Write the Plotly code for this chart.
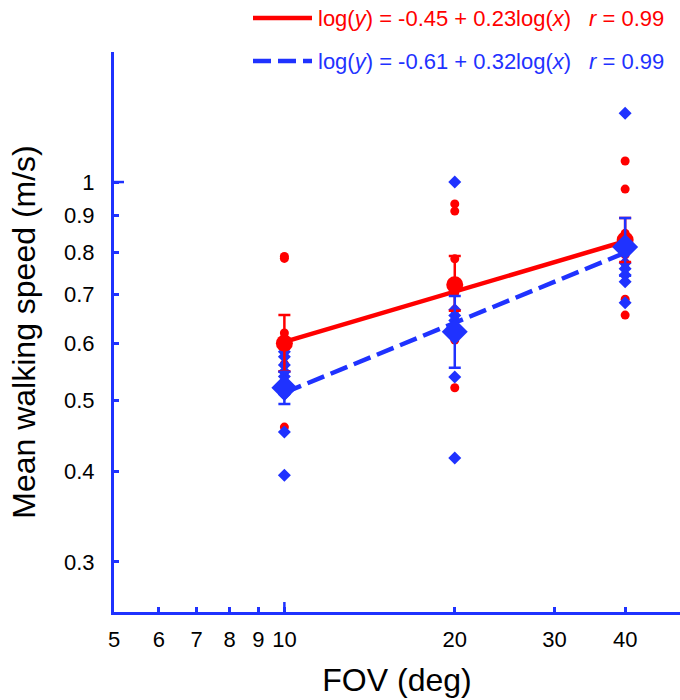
import numpy as np
import plotly.graph_objects as go

RED = "#ff0000"
BLUE = "#1f32ff"
FONT = "Liberation Sans, Arial, sans-serif"

fov = [10, 20, 40]

# individual participant speeds (m/s)
red_pts_10 = [0.79, 0.785, 0.62, 0.61, 0.60, 0.562, 0.46]
red_pts_20 = [0.933, 0.912, 0.784, 0.73, 0.715, 0.704, 0.667, 0.606, 0.521]
red_pts_40 = [1.069, 0.978, 0.85, 0.83, 0.794, 0.774, 0.69, 0.656]
blue_pts_10 = [0.584, 0.575, 0.56, 0.548, 0.54, 0.53, 0.51, 0.453, 0.395]
blue_pts_20 = [1.0, 0.667, 0.655, 0.645, 0.63, 0.539, 0.417]
blue_pts_40 = [1.244, 0.83, 0.81, 0.774, 0.76, 0.745, 0.729, 0.682]

# group means and error-bar bounds
red_mean = [0.600, 0.722, 0.832]
red_hi = [0.656, 0.791, 0.892]
red_lo = [0.549, 0.665, 0.776]
blue_mean = [0.521, 0.622, 0.814]
blue_hi = [0.548, 0.697, 0.892]
blue_lo = [0.495, 0.555, 0.743]

# fit coefficients (log10 space) and r values from the legend
red_fit = (-0.45, 0.23, 0.99)
blue_fit = (-0.61, 0.32, 0.99)

x_ticks = [5, 6, 7, 8, 9, 10, 20, 30, 40]
y_ticks = [0.3, 0.4, 0.5, 0.6, 0.7, 0.8, 0.9, 1]


def pts(groups):
    xs, ys = [], []
    for f, g in zip(fov, groups):
        xs += [f] * len(g)
        ys += g
    return xs, ys


fig = go.Figure()

rx, ry = pts([red_pts_10, red_pts_20, red_pts_40])
bx, by = pts([blue_pts_10, blue_pts_20, blue_pts_40])
fig.add_trace(go.Scatter(x=rx, y=ry, mode="markers", showlegend=False,
                         marker=dict(symbol="circle", size=9, color=RED)))
fig.add_trace(go.Scatter(x=bx, y=by, mode="markers", showlegend=False,
                         marker=dict(symbol="diamond", size=10, color=BLUE)))

xf = np.array([fov[0], fov[-1]], dtype=float)
for fit, col, dash in [(red_fit, RED, "solid"), (blue_fit, BLUE, "18px,7px")]:
    yf = 10 ** (fit[0] + fit[1] * np.log10(xf))
    fig.add_trace(go.Scatter(x=xf, y=yf, mode="lines", showlegend=False,
                             line=dict(color=col, width=4.5, dash=dash)))

for mean, hi, lo, col, sym, size in [
    (red_mean, red_hi, red_lo, RED, "circle", 17),
    (blue_mean, blue_hi, blue_lo, BLUE, "diamond", 20),
]:
    fig.add_trace(go.Scatter(
        x=fov, y=mean, mode="markers", showlegend=False,
        marker=dict(symbol=sym, size=size, color=col),
        error_y=dict(type="data", symmetric=False,
                     array=[h - m for h, m in zip(hi, mean)],
                     arrayminus=[m - l for m, l in zip(mean, lo)],
                     color=col, thickness=2.5, width=6),
    ))

# legend drawn at top (paper coords)
def px_x(p):
    return (p - 114) / 566

def px_y(p):
    return (612 - p) / 560

shapes = []
annotations = []
for fit, col, dash, py in [(red_fit, RED, "solid", 18), (blue_fit, BLUE, "18px,7px", 61)]:
    shapes.append(dict(type="line", xref="paper", yref="paper",
                       x0=px_x(253), x1=px_x(312), y0=px_y(py), y1=px_y(py),
                       line=dict(color=col, width=4.5, dash=dash)))
    annotations.append(dict(
        xref="paper", yref="paper", x=px_x(316), y=px_y(py), xanchor="left", yanchor="middle",
        text=f"log(<i>y</i>) = {fit[0]:.2f} + {fit[1]:.2f}log(<i>x</i>)", showarrow=False,
        font=dict(family=FONT, size=22, color=col)))
    annotations.append(dict(
        xref="paper", yref="paper", x=px_x(587), y=px_y(py), xanchor="left", yanchor="middle",
        text=f"<i>r</i> = {fit[2]:.2f}", showarrow=False,
        font=dict(family=FONT, size=22, color=col)))

# longer major ticks at 10 and 1
shapes.append(dict(type="line", xref="x", yref="paper", x0=10, x1=10, y0=0, y1=10 / 560,
                   line=dict(color=BLUE, width=2.5)))
shapes.append(dict(type="line", xref="paper", yref="y", x0=0, x1=10 / 566, y0=1, y1=1,
                   line=dict(color=BLUE, width=2.5)))

fig.update_layout(
    width=680, height=700,
    margin=dict(l=114, r=0, t=52, b=88),
    paper_bgcolor="white", plot_bgcolor="white",
    font=dict(family=FONT, color="black"),
    shapes=shapes, annotations=annotations,
    showlegend=False,
)
fig.update_xaxes(
    type="log", range=[np.log10(5), np.log10(50)], automargin=False,
    tickvals=x_ticks, ticktext=[str(v) for v in x_ticks],
    ticks="inside", ticklen=5, tickwidth=2.5, tickcolor=BLUE,
    showline=True, linecolor=BLUE, linewidth=3, showgrid=False, zeroline=False,
    tickfont=dict(size=22, color="black"), ticklabelstandoff=6,
    title=dict(text="FOV (deg)", font=dict(size=32, color="black"), standoff=18),
)
fig.update_yaxes(
    type="log", range=[np.log10(0.256), np.log10(1.51)], automargin=False,
    tickvals=y_ticks, ticktext=[f"{v:g}" for v in y_ticks],
    ticks="inside", ticklen=5, tickwidth=2.5, tickcolor=BLUE,
    showline=True, linecolor=BLUE, linewidth=3, showgrid=False, zeroline=False,
    tickfont=dict(size=22, color="black"), ticklabelstandoff=12,
    title=dict(text="Mean walking speed (m/s)", font=dict(size=32, color="black"), standoff=19),
)

fig.write_html("out.html", config={"displayModeBar": False},
               post_script="document.body.style.margin='0';")
